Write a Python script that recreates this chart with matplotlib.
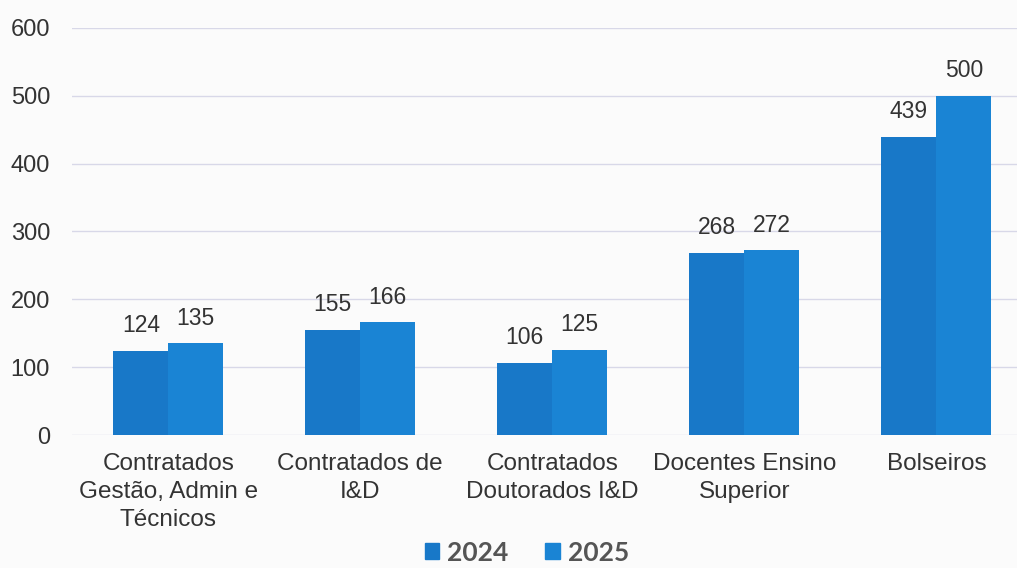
import numpy as np
import matplotlib.pyplot as plt
from matplotlib.patches import Patch

categorias = ['Contratados\nGestão, Admin e\nTécnicos', 'Contratados de\nI&D',
              'Contratados\nDoutorados I&D', 'Docentes Ensino\nSuperior', 'Bolseiros']
anos = ['2024', '2025']
v2024 = [124, 155, 106, 268, 439]
v2025 = [135, 166, 125, 272, 500]
cores = ['#1878c8', '#1a84d4']

plt.rcParams['font.family'] = ['Liberation Sans', 'DejaVu Sans']

fig = plt.figure(figsize=(10.17, 5.68), dpi=100, facecolor='#fbfbfb')
ax = fig.add_axes([0.071, 0.234, 0.929, 0.717], facecolor='#fbfbfb')

x = np.arange(len(categorias))
w = 0.286
b1 = ax.bar(x - w / 2, v2024, w, color=cores[0], zorder=3)
b2 = ax.bar(x + w / 2, v2025, w, color=cores[1], zorder=3)
for b in (b1, b2):
    ax.bar_label(b, padding=10, fontsize=16.5, color='#333333')

ax.set_ylim(0, 600)
ax.set_xlim(-0.5, 4.42)
ax.set_yticks(range(0, 601, 100))
ax.yaxis.grid(True, color='#d8d8e8', linewidth=1, zorder=0)
for s in ax.spines.values():
    s.set_visible(False)
ax.tick_params(axis='y', length=0, labelsize=17, labelcolor='#333333', pad=16)
ax.tick_params(axis='x', length=0, labelsize=17.5, labelcolor='#333333', pad=13)
ax.set_xticks(x)
ax.set_xticklabels(categorias, linespacing=1.36)

handles = [Patch(color=c) for c in cores]
leg = fig.legend(handles, anos, loc='lower center', bbox_to_anchor=(0.518, -0.036), ncol=2,
                 frameon=False, handlelength=0.55, handleheight=0.55,
                 columnspacing=1.4, handletextpad=0.3,
                 prop={'family': ['Lato', 'DejaVu Sans'], 'weight': 'bold', 'size': 19})
for t in leg.get_texts():
    t.set_color('#555555')

fig.savefig('out.png', dpi=100, facecolor=fig.get_facecolor())
